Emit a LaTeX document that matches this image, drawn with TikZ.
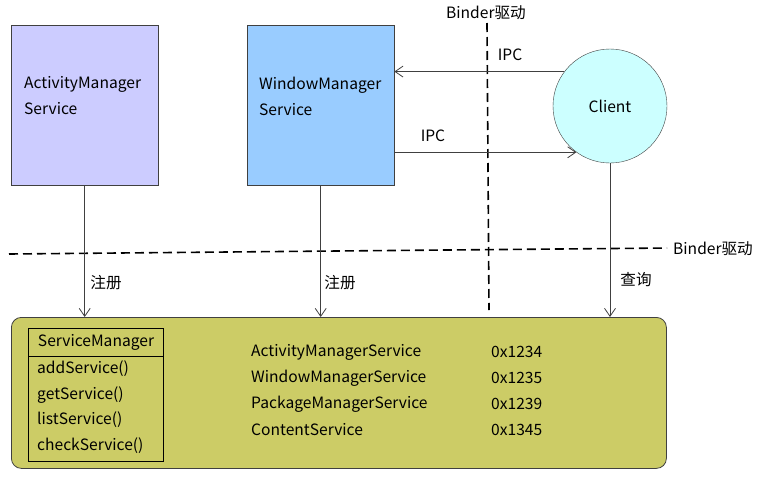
\documentclass[tikz,border=0pt]{standalone}
\usepackage{fontspec}
\setmainfont{Noto Sans CJK SC}
\usetikzlibrary{arrows.meta}
\definecolor{amsfill}{HTML}{CCCCFF}
\definecolor{wmsfill}{HTML}{99CCFF}
\definecolor{clientfill}{HTML}{CCFFFF}
\definecolor{smfill}{HTML}{CCCC66}
\definecolor{linegray}{HTML}{404040}
\begin{document}
\begin{tikzpicture}[x=1pt,y=-1pt,font=\fontsize{15.6}{18}\selectfont,
  >={Straight Barb[length=8pt,width=11pt]}]
  \useasboundingbox (0,0) rectangle (761,477);
  \tikzset{
    svcbox/.style={draw=linegray,anchor=north west,minimum width=147pt,minimum height=160pt},
    svctext/.style={anchor=west,align=left,inner sep=0pt,font=\fontsize{15.6}{26}\selectfont},
    txt/.style={inner sep=0pt},
    ltxt/.style={inner sep=0pt,anchor=west},
    binder/.style={line width=1.6pt,dash pattern=on 9pt off 5pt},
    conn/.style={->,draw=linegray,line width=0.8pt}
  }
  % services
  \node[svcbox,fill=amsfill] (ams) at (11,25) {};
  \node[svctext] (amstext) at (24,96) {ActivityManager\\Service};
  \node[svcbox,fill=wmsfill] (wms) at (247,25) {};
  \node[svctext] (wmstext) at (259,96) {WindowManager\\Service};
  \node[circle,draw=linegray,fill=clientfill,minimum size=114pt] (client) at (610,106) {Client};
  % servicemanager
  \node[draw=linegray,line width=0.8pt,fill=smfill,rounded corners=10pt,anchor=north west,
    minimum width=655pt,minimum height=151pt] (reg) at (11,317) {};
  \node[draw,anchor=north west,minimum width=135pt,minimum height=133pt] (sm) at (28,328) {};
  \draw ([yshift=-28pt]sm.north west) -- ([yshift=-28pt]sm.north east);
  \node[txt] (smtitle) at (96,342) {ServiceManager};
  \node[ltxt] (add) at (37,369) {addService()};
  \node[ltxt] (get) at (37,395) {getService()};
  \node[ltxt] (list) at (37,420) {listService()};
  \node[ltxt] (check) at (37,446) {checkService()};
  \node[ltxt] (amsname) at (251,352) {ActivityManagerService};
  \node[ltxt] (wmsname) at (251,378) {WindowManagerService};
  \node[ltxt] (pmsname) at (251,404) {PackageManagerService};
  \node[ltxt] (csname) at (251,430) {ContentService};
  \node[ltxt] (amsid) at (491,352) {0x1234};
  \node[ltxt] (wmsid) at (491,378) {0x1235};
  \node[ltxt] (pmsid) at (491,404) {0x1239};
  \node[ltxt] (csid) at (491,430) {0x1345};
  % binder
  \coordinate (vtop) at (487,23);
  \coordinate (vbot) at (489,310);
  \draw[binder] (vtop) -- (vbot);
  \node[txt] (vlabel) at (486,13) {Binder驱动};
  \coordinate (hleft) at (9,254);
  \coordinate (hright) at (667,248);
  \draw[binder] (hleft) -- (hright);
  \node[ltxt] (hlabel) at (673,249) {Binder驱动};
  % ipc
  \draw[conn] (client.143) -- (client.143 -| wms.east);
  \node[txt] (ipcin) at (510,55) {IPC};
  \draw[conn] (client.234 -| wms.east) -- (client.234);
  \node[txt] (ipcout) at (433,136) {IPC};
  % register, query
  \draw[conn] (ams.south) -- (ams.south |- reg.north);
  \node[txt] (regams) at (106,283) {注册};
  \draw[conn] (wms.south) -- (wms.south |- reg.north);
  \node[txt] (regwms) at (340,283) {注册};
  \draw[conn] (client.south) -- (client.south |- reg.north);
  \node[txt] (query) at (636,280) {查询};
\end{tikzpicture}
\end{document}
